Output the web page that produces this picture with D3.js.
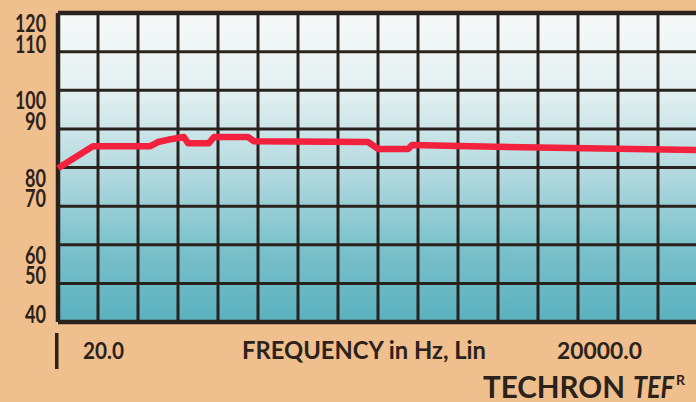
<!DOCTYPE html>
<html><head><meta charset="utf-8">
<script src="https://cdn.jsdelivr.net/npm/d3@7"></script>
<style>
html,body{margin:0;padding:0;background:#f0bf8e;}
svg{display:block;}
text{font-family:"Lato","DejaVu Sans",sans-serif;font-weight:bold;fill:#2b221b;}
</style></head>
<body>
<svg id="c" width="696" height="402"></svg>
<script>
// Data
const freqHz = [20, 1110, 2890, 3140, 3580, 3950, 4080, 4730, 4890, 5950, 6140, 9700, 10010, 10950, 11070, 12880, 20000];
const levelDb = [79.8, 85.5, 85.5, 86.6, 87.4, 87.9, 86.3, 86.3, 87.9, 87.9, 86.8, 86.6, 84.8, 84.8, 85.8, 85.5, 84.5];
const yTickValues = [120, 110, 100, 90, 80, 70, 60, 50, 40];
const xTickLabels = ["20.0", "20000.0"];
const xTickFreqs = [20, 20000];
const gridFreqs = d3.range(0, 17).map(i => 20 + i * (19980 / 16));
const xTitle = "FREQUENCY in Hz, Lin";
const brand = "TECHRON";
const brandItalic = "TEF";

const svg = d3.select("#c");
const mLeft = 58, mTop = 13, mBottom = 322, colW = 40;
const x = d3.scaleLinear().domain([20, 20000]).range([mLeft, mLeft + colW * 16]);
const y = d3.scaleLinear().domain([40, 120]).range([mBottom, mTop]);

// background gradient panel
const defs = svg.append("defs");
const g = defs.append("linearGradient").attr("id", "bg").attr("x1", 0).attr("y1", 0).attr("x2", 0).attr("y2", 1);
g.append("stop").attr("offset", "0%").attr("stop-color", "#f7f9f8");
g.append("stop").attr("offset", "25%").attr("stop-color", "#e3f0f1");
g.append("stop").attr("offset", "50%").attr("stop-color", "#b6dbe0");
g.append("stop").attr("offset", "75%").attr("stop-color", "#7cc2cc");
g.append("stop").attr("offset", "100%").attr("stop-color", "#5ab0be");

svg.append("rect").attr("x", mLeft).attr("y", mTop).attr("width", 700 - mLeft).attr("height", mBottom - mTop).attr("fill", "url(#bg)");

// grid lines
const grid = svg.append("g").attr("stroke", "#2a231d");
grid.selectAll("line.h").data(yTickValues).join("line").attr("class", "h")
  .attr("x1", mLeft).attr("x2", 700).attr("y1", d => y(d)).attr("y2", d => y(d))
  .attr("stroke-width", d => (d === 120 || d === 40) ? 4.5 : 3);
grid.selectAll("line.v").data(gridFreqs).join("line").attr("class", "v")
  .attr("x1", d => x(d)).attr("x2", d => x(d)).attr("y1", mTop).attr("y2", mBottom)
  .attr("stroke-width", (d, i) => i === 0 ? 4.5 : 3);

// red response line
const line = d3.line().x((d, i) => x(freqHz[i])).y(d => y(d));
svg.append("path").datum(levelDb).attr("d", line)
  .attr("fill", "none").attr("stroke", "#f2213e").attr("stroke-width", 6.5)
  .attr("stroke-linejoin", "round");

// y labels
svg.selectAll("text.yl").data(yTickValues).join("text")
  .attr("class", "yl")
  .attr("x", 46)
  .attr("y", d => ((120 - d) % 20 === 0 && d !== 40) ? y(d) + 19 : y(d) + 1)
  .attr("text-anchor", "end")
  .attr("font-size", 24)
  .attr("font-weight", 900)
  .attr("textLength", d => String(d).length === 3 ? 31 : 21)
  .attr("lengthAdjust", "spacingAndGlyphs")
  .text(d => d);

// x tick mark and labels
svg.append("rect").attr("x", 55).attr("y", 333).attr("width", 3.5).attr("height", 36).attr("fill", "#2b221b");
svg.selectAll("text.xl").data(xTickLabels).join("text").attr("class", "xl")
  .attr("x", (d, i) => i === 0 ? 83 : 557)
  .attr("y", 359)
  .attr("font-size", 22)
  .attr("textLength", (d, i) => i === 0 ? 41 : 85)
  .attr("lengthAdjust", "spacingAndGlyphs")
  .text(d => d);

svg.append("text").attr("x", 242).attr("y", 359).attr("font-size", 24)
  .attr("textLength", 244).attr("lengthAdjust", "spacingAndGlyphs").text(xTitle);

svg.append("text").attr("x", 483).attr("y", 398).attr("font-size", 31)
  .attr("textLength", 142).attr("lengthAdjust", "spacingAndGlyphs").text(brand);
svg.append("text").attr("x", 633).attr("y", 398).attr("font-size", 31).attr("font-style", "italic")
  .attr("textLength", 41).attr("lengthAdjust", "spacingAndGlyphs").text(brandItalic);
svg.append("text").attr("x", 676).attr("y", 385).attr("font-size", 14)
  .text("R");
</script>
</body></html>
